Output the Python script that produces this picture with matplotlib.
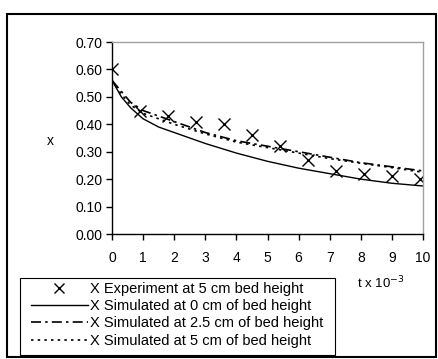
import matplotlib.pyplot as plt
from matplotlib.patches import Rectangle

# experimental points (5 cm bed height)
t_exp = [0, 0.9, 1.8, 2.7, 3.6, 4.5, 5.4, 6.3, 7.2, 8.1, 9.0, 9.9]
x_exp = [0.60, 0.45, 0.43, 0.41, 0.40, 0.36, 0.32, 0.27, 0.23, 0.22, 0.21, 0.20]

# simulated curves
t_sim = [0, 0.15, 0.3, 0.6, 1, 1.5, 2, 3, 4, 5, 6, 7, 8, 9, 10]
x_sim_0 = [0.56, 0.53, 0.50, 0.46, 0.42, 0.39, 0.37, 0.33, 0.295, 0.265, 0.24, 0.22, 0.20, 0.185, 0.175]
x_sim_25 = [0.56, 0.54, 0.52, 0.48, 0.45, 0.43, 0.41, 0.37, 0.34, 0.32, 0.30, 0.28, 0.26, 0.245, 0.23]
x_sim_5 = [0.56, 0.535, 0.51, 0.47, 0.44, 0.42, 0.40, 0.365, 0.335, 0.315, 0.295, 0.275, 0.258, 0.242, 0.225]

plt.rcParams['font.family'] = ['Liberation Sans', 'DejaVu Sans']

fig = plt.figure(figsize=(4.38, 3.59), dpi=100)
# outer chart border
fig.patches.append(Rectangle((7 / 438, 1 - 357 / 359), 429 / 438, 343 / 359,
                             transform=fig.transFigure, fill=False,
                             edgecolor='black', linewidth=1.5))
# legend frame drawn by hand so the padding matches
fig.patches.append(Rectangle((20 / 438, 1 - 355 / 359), 315 / 438, 77 / 359,
                             transform=fig.transFigure, fill=False,
                             edgecolor='black', linewidth=0.8))

ax = fig.add_axes([112 / 438, 1 - 234 / 359, 311 / 438, 192 / 359])

ax.plot(t_exp, x_exp, 'x', color='black', markersize=9, markeredgewidth=1.0,
        linestyle='none', label='X Experiment at 5 cm bed height')
ax.plot(t_sim, x_sim_0, '-', color='black', linewidth=1.0,
        label='X Simulated at 0 cm of bed height')
ax.plot(t_sim, x_sim_25, color='black', linewidth=1.2, linestyle=(0, (6, 2.5, 1.5, 2.5)),
        label='X Simulated at 2.5 cm of bed height')
ax.plot(t_sim, x_sim_5, color='black', linewidth=1.2, linestyle=(0, (1.5, 2.5)),
        label='X Simulated at 5 cm of bed height')

ax.set_xlim(0, 10)
ax.set_ylim(0, 0.70)
ax.set_xticks(range(0, 11))
ax.set_yticks([i / 10 for i in range(0, 8)])
ax.set_yticklabels(['%.2f' % (i / 10) for i in range(0, 8)])
ax.tick_params(labelsize=10, length=4, width=1, color='black', pad=3)
ax.tick_params(axis='x', pad=8)

for side in ['top', 'right']:
    ax.spines[side].set_color('#a0a0a0')
    ax.spines[side].set_linewidth(1.0)
for side in ['left', 'bottom']:
    ax.spines[side].set_color('black')
    ax.spines[side].set_linewidth(1.0)

fig.text(50 / 438, 1 - 141 / 359, 'x', fontsize=10, ha='center', va='center')
fig.text(357 / 438, 1 - 283 / 359, 't x 10$^{-3}$', fontsize=9.5, ha='left', va='center')

handles, labels = ax.get_legend_handles_labels()
leg = fig.legend(handles, labels, loc='upper left',
                 bbox_to_anchor=(31 / 438, 1 - 282 / 359),
                 fontsize=10.5, frameon=False,
                 handlelength=3.9, handletextpad=0.15, labelspacing=0.22,
                 borderpad=0, borderaxespad=0, markerscale=0.8)

fig.savefig('out.png', dpi=100)
